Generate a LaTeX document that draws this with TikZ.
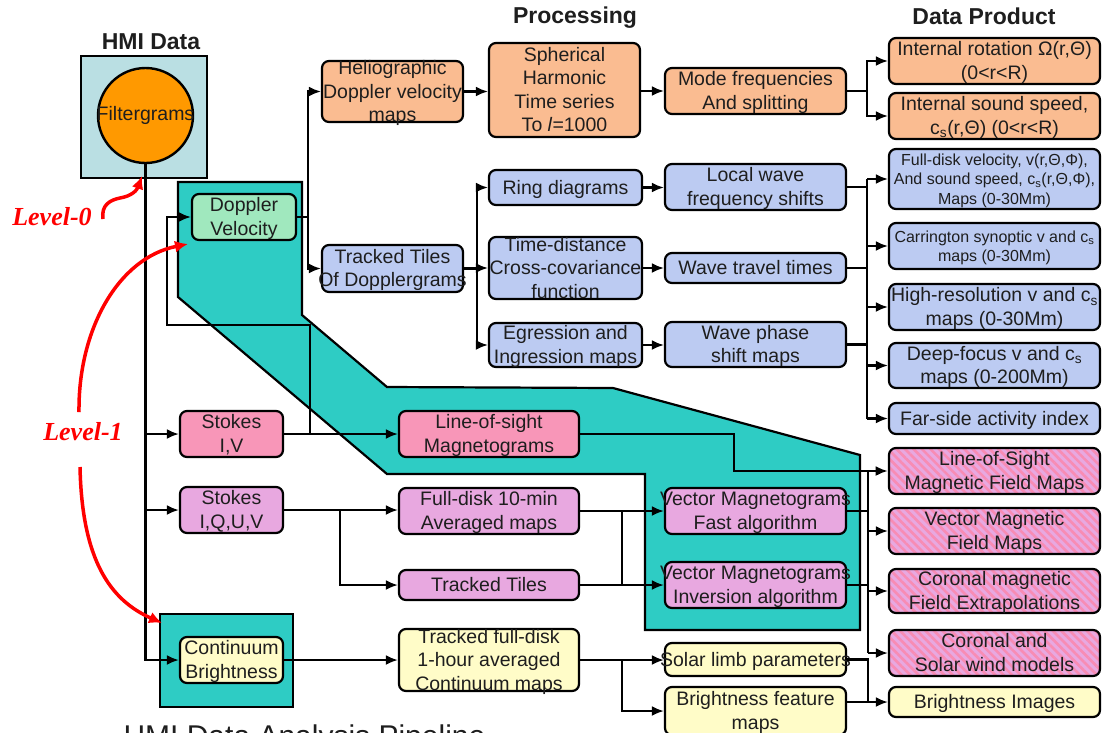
\documentclass[tikz,border=0pt]{standalone}
\usepackage{fontspec}
\setmainfont{Liberation Sans}
\newfontfamily\lvlfont{Liberation Serif}
\usetikzlibrary{arrows.meta,patterns.meta,calc}

\definecolor{hmiblue}{RGB}{186,223,227}
\definecolor{orangec}{RGB}{255,153,0}
\definecolor{tealc}{RGB}{46,204,196}
\definecolor{greenc}{RGB}{160,232,190}
\definecolor{peachc}{RGB}{250,188,145}
\definecolor{bluec}{RGB}{188,203,242}
\definecolor{pinkc}{RGB}{248,150,184}
\definecolor{violetc}{RGB}{232,168,224}
\definecolor{yellowc}{RGB}{255,252,200}
\definecolor{stripec}{RGB}{248,140,180}
\definecolor{txtc}{RGB}{30,30,30}

\newcommand\ctext[1]{\sbox0{\begin{tabular}{@{}c@{}}#1\end{tabular}}\makebox[0pt]{\smash{\raisebox{\dimexpr(\dp0-\ht0)/2-2pt\relax}{\usebox0}}}}

\begin{document}
\begin{tikzpicture}[x=1pt,y=-1pt,
  box/.style={draw=black, line width=2.2pt, rounded corners=7pt, inner sep=0pt, text=txtc,
    font=\fontsize{19.5}{23.5}\selectfont},
  smalltxt/.style={font=\fontsize{16}{19.5}\selectfont},
  peach/.style={box, fill=peachc},
  blueb/.style={box, fill=bluec},
  pinkb/.style={box, fill=pinkc},
  violb/.style={box, fill=violetc},
  yellb/.style={box, fill=yellowc},
  hatchb/.style={box, preaction={fill=violetc}, pattern={Lines[angle=-45,distance=6pt,line width=2.6pt]}, pattern color=stripec},
  procw/.style={minimum width=181pt},
  prodw/.style={minimum width=211pt},
  midw/.style={minimum width=180pt},
  lvl/.style={text=red, font=\lvlfont\bfseries\itshape\fontsize{26}{30}\selectfont},
  title/.style={text=txtc, font=\bfseries\fontsize{23}{27}\selectfont},
  conn/.style={line width=2.2pt, draw=black},
  arr/.style={conn, -{Latex[length=12pt,width=10pt]}},
  redarr/.style={draw=red, line width=3.5pt, -{Latex[length=13pt,width=12pt]}},
  tealreg/.style={fill=tealc, draw=black, line width=2.2pt},
]
\useasboundingbox (0,0) rectangle (1103,732);
\fill[white] (0,0) rectangle (1103,732);

% teal regions
\draw[tealreg] (178,182) -- (302,182) -- (302,315) -- (387,387) -- (613,388) -- (860,455)
  -- (860,630) -- (645,630) -- (645,474) -- (387,474) -- (178,297) -- cycle;
\node[tealreg, minimum width=133pt, minimum height=93pt, inner sep=0pt] (cbreg) at (226.5,660.5) {};

% HMI data
\node[title] (thmi) at (151,42) {HMI Data};
\node[title] (tproc) at (575,17.5) {Processing};
\node[title] (tprod) at (984,16.5) {Data Product};
\node[fill=hmiblue, draw=black, line width=2.2pt, minimum width=126pt, minimum height=122pt, inner sep=0pt] (hmi) at (144,117) {};
\node[circle, fill=orangec, draw=black, line width=2.4pt, minimum size=95pt, inner sep=0pt, text=txtc,
  font=\fontsize{19.5}{23.5}\selectfont] (filt) at (145.5,115.5) {\makebox[0pt]{Filtergrams}};

% level 0 / 1 nodes
\node[peach, minimum width=141pt, minimum height=61pt] (helio) at (392.5,91.5) {\ctext{Heliographic\\Doppler velocity\\maps}};
\node[peach, minimum width=151pt, minimum height=94pt] (sph) at (564.5,90) {\ctext{Spherical\\Harmonic\\Time series\\To \textit{l}=1000}};
\node[peach, procw, minimum height=46pt] (mode) at (755.5,91) {\ctext{Mode frequencies\\And splitting}};
\node[peach, prodw, minimum height=46pt] (introt) at (994.5,61) {\ctext{Internal rotation Ω(r,Θ)\\(0<r<R)}};
\node[peach, prodw, minimum height=46pt] (intsnd) at (994.5,116) {\ctext{Internal sound speed,\\c\textsubscript{s}(r,Θ) (0<r<R)}};

\node[box, fill=greenc, minimum width=104pt, minimum height=46pt] (dv) at (244,217) {\ctext{Doppler\\Velocity}};
\node[blueb, minimum width=141pt, minimum height=47pt] (ttd) at (392.5,268.5) {\ctext{Tracked Tiles\\Of Dopplergrams}};
\node[blueb, minimum width=153pt, minimum height=35pt] (ring) at (565.5,187.5) {\ctext{Ring diagrams}};
\node[blueb, minimum width=153pt, minimum height=62pt] (td) at (565.5,268) {\ctext{Time-distance\\Cross-covariance\\function}};
\node[blueb, minimum width=153pt, minimum height=44pt] (egr) at (565.5,345) {\ctext{Egression and\\Ingression maps}};
\node[blueb, procw, minimum height=46pt] (lwave) at (755.5,187) {\ctext{Local wave\\frequency shifts}};
\node[blueb, procw, minimum height=30pt] (wtt) at (755.5,268) {\ctext{Wave travel times}};
\node[blueb, procw, minimum height=45pt] (wps) at (755.5,344.5) {\ctext{Wave phase\\shift maps}};
\node[blueb, smalltxt, prodw, minimum height=60pt] (fdv) at (994.5,179) {\ctext{Full-disk velocity, v(r,Θ,Φ),\\And sound speed, c\textsubscript{s}(r,Θ,Φ),\\Maps (0-30Mm)}};
\node[blueb, smalltxt, prodw, minimum height=46pt] (carr) at (994.5,246) {\ctext{Carrington synoptic v and c\textsubscript{s}\\maps (0-30Mm)}};
\node[blueb, prodw, minimum height=46pt] (hires) at (994.5,307) {\ctext{High-resolution v and c\textsubscript{s}\\maps (0-30Mm)}};
\node[blueb, prodw, minimum height=45pt] (deep) at (994.5,365.5) {\ctext{Deep-focus v and c\textsubscript{s}\\maps (0-200Mm)}};
\node[blueb, prodw, minimum height=31pt] (far) at (994.5,418.5) {\ctext{Far-side activity index}};

\node[pinkb, minimum width=103pt, minimum height=46pt] (siv) at (231.5,434) {\ctext{Stokes\\I,V}};
\node[violb, minimum width=103pt, minimum height=46pt] (siquv) at (231.5,510) {\ctext{Stokes\\I,Q,U,V}};
\node[pinkb, midw, minimum height=46pt] (los) at (489,434) {\ctext{Line-of-sight\\Magnetograms}};
\node[violb, midw, minimum height=46pt] (fd10) at (489,511) {\ctext{Full-disk 10-min\\Averaged maps}};
\node[violb, midw, minimum height=30pt] (ttm) at (489,585) {\ctext{Tracked Tiles}};
\node[violb, procw, minimum height=46pt] (vfast) at (755.5,511) {\ctext{Vector Magnetograms\\Fast algorithm}};
\node[violb, procw, minimum height=46pt] (vinv) at (755.5,585) {\ctext{Vector Magnetograms\\Inversion algorithm}};
\node[hatchb, prodw, minimum height=46pt] (losmap) at (994.5,471) {\ctext{Line-of-Sight\\Magnetic Field Maps}};
\node[hatchb, prodw, minimum height=46pt] (vmap) at (994.5,531) {\ctext{Vector Magnetic\\Field Maps}};
\node[hatchb, prodw, minimum height=44pt] (corm) at (994.5,591) {\ctext{Coronal magnetic\\Field Extrapolations}};
\node[hatchb, prodw, minimum height=46pt] (corsw) at (994.5,653) {\ctext{Coronal and\\Solar wind models}};

\node[yellb, minimum width=103pt, minimum height=46pt] (cb) at (231.5,660) {\ctext{Continuum\\Brightness}};
\node[yellb, midw, minimum height=62pt] (tfd) at (489,660) {\ctext{Tracked full-disk\\1-hour averaged\\Continuum maps}};
\node[yellb, procw, minimum height=33pt] (limb) at (755.5,659.5) {\ctext{Solar limb parameters}};
\node[yellb, procw, minimum height=48pt] (bfm) at (755.5,711) {\ctext{Brightness feature\\maps}};
\node[yellb, prodw, minimum height=30pt] (bimg) at (994.5,702) {\ctext{Brightness Images}};

% connectors: filtergrams
\draw[arr] (filt.south) |- (cb.west);
\draw[arr] (filt.south |- siv.west) -- (siv.west);
\draw[arr] (filt.south |- siquv.west) -- (siquv.west);

% doppler
\coordinate (jdv) at (308,217);
\draw[conn] (dv.east) -- (jdv);
\draw[arr] (jdv) |- (helio.west);
\draw[arr] (jdv) |- (ttd.west);
\draw[arr] (helio.east) -- (helio.east -| sph.west);
\draw[arr] (sph.east |- mode.west) -- (mode.west);
\coordinate (jmode) at (867,91);
\draw[conn] (mode.east) -- (jmode);
\draw[arr] (jmode) |- (introt.west);
\draw[arr] (jmode) |- (intsnd.west);

\coordinate (jtt) at (477,268.5);
\draw[conn] (ttd.east) -- (jtt);
\draw[arr] (jtt) |- (ring.west);
\draw[arr] (jtt) |- (td.west);
\draw[arr] (jtt) |- (egr.west);
\draw[arr] (ring.east) -- (ring.east -| lwave.west);
\draw[arr] (td.east) -- (td.east -| wtt.west);
\draw[arr] (egr.east) -- (egr.east -| wps.west);

\coordinate (ha) at (867,179);
\coordinate (hb) at (867,418.5);
\draw[conn] (lwave.east) -- (lwave.east -| ha);
\draw[conn] (wtt.east) -- (wtt.east -| ha);
\draw[conn] (wps.east) -- (wps.east -| ha);
\draw[conn] (ha) -- (hb);
\foreach \n in {fdv,carr,hires,deep,far} \draw[arr] (ha |- \n.west) -- (\n.west);

% stokes
\draw[arr] (siv.east) -- (los.west);
\coordinate (jsiv) at (310,434);
\coordinate (jloop) at (167,325);
\draw[arr] (jsiv) |- (jloop) |- (dv.west);
\coordinate (jlos) at (734,452);
\draw[arr] (los.east) -| (jlos) |- (losmap.west);

\coordinate (jsq) at (340,510);
\draw[arr] (siquv.east) -- (siquv.east -| fd10.west);
\draw[arr] (jsq) |- (ttm.west);
\draw[arr] (fd10.east) -- (vfast.west);
\draw[arr] (ttm.east) -- (vinv.west);
\coordinate (jfd) at (622,511);
\draw[conn] (jfd) -- (jfd |- ttm.east);

\coordinate (ma) at (868,471);
\coordinate (mb) at (868,653);
\draw[conn] (vfast.east) -- (vfast.east -| ma);
\draw[conn] (vinv.east) -- (vinv.east -| ma);
\draw[conn] (ma) -- (mb);
\foreach \n in {vmap,corm,corsw} \draw[arr] (ma |- \n.west) -- (\n.west);

% continuum
\draw[arr] (cb.east) -- (tfd.west);
\draw[arr] (tfd.east) -- (tfd.east -| limb.west);
\coordinate (jtfd) at (622,660);
\draw[arr] (jtfd) |- (bfm.west);
\coordinate (jb) at (868,702);
\draw[arr] (limb.east) -| (jb) -- (bimg.west);
\draw[conn] (bfm.east |- jb) -- (jb);

% level labels and red arrows
\node[lvl] (lvl0) at (52,217) {Level-0};
\node[lvl] (lvl1) at (83,432) {Level-1};
\coordinate (r0a) at (103,219);
\coordinate (r0b) at (142,176);
\draw[redarr] (r0a) .. controls (101,205) and (110,200) .. (120,198) .. controls (132,196) and (137,190) .. (r0b);
\coordinate (r1a) at (79,412);
\coordinate (r1b) at (188,244);
\draw[redarr] (r1a) .. controls (78,330) and (118,258) .. (r1b);
\coordinate (r2a) at (80,467);
\coordinate (r2b) at (162,623);
\draw[redarr] (r2a) .. controls (82,560) and (110,600) .. (r2b);

% caption (cut by the frame, as in the reference)
\node[anchor=base west, text=txtc, font=\fontsize{30}{36}\selectfont] (cap) at (120,746) {HMI Data Analysis Pipeline};
\end{tikzpicture}
\end{document}
